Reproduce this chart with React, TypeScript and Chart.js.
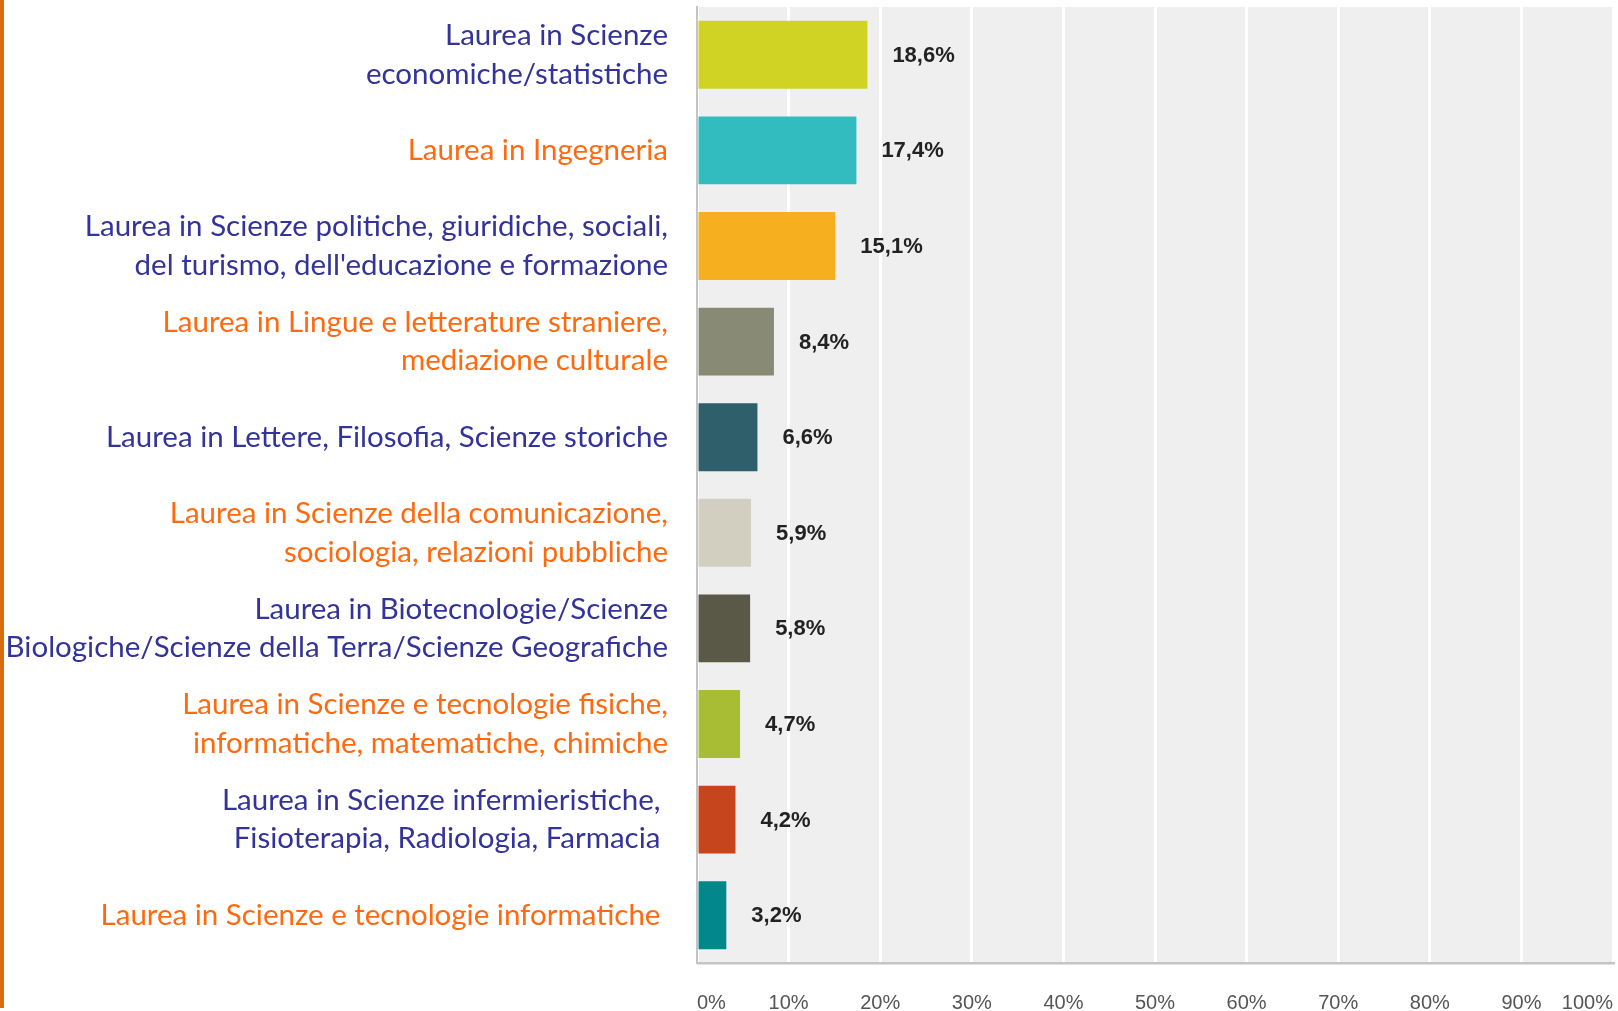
import React, { useEffect, useRef } from "react";
import { Chart, registerables } from "chart.js";

Chart.register(...registerables);

const categories: (string | string[])[] = [
  ["Laurea in Scienze", "economiche/statistiche"],
  "Laurea in Ingegneria",
  ["Laurea in Scienze politiche, giuridiche, sociali,", "del turismo, dell'educazione e formazione"],
  ["Laurea in Lingue e letterature straniere,", "mediazione culturale"],
  "Laurea in Lettere, Filosofia, Scienze storiche",
  ["Laurea in Scienze della comunicazione,", "sociologia, relazioni pubbliche"],
  ["Laurea in Biotecnologie/Scienze", "Biologiche/Scienze della Terra/Scienze Geografiche"],
  ["Laurea in Scienze e tecnologie fisiche,", "informatiche, matematiche, chimiche"],
  ["Laurea in Scienze infermieristiche, ", "Fisioterapia, Radiologia, Farmacia "],
  "Laurea in Scienze e tecnologie informatiche ",
];

const values: number[] = [18.6, 17.4, 15.1, 8.4, 6.6, 5.9, 5.8, 4.7, 4.2, 3.2];

const barColors: string[] = [
  "#D0D324",
  "#33BCBF",
  "#F6AF1F",
  "#898A75",
  "#2E5F6B",
  "#D2CFC0",
  "#5A5846",
  "#A9BD34",
  "#C7451C",
  "#02878A",
];

const labelColors: string[] = [
  "#333399",
  "#FF6A10",
  "#333399",
  "#FF6A10",
  "#333399",
  "#FF6A10",
  "#333399",
  "#FF6A10",
  "#333399",
  "#FF6A10",
];

const xTicks: number[] = [0, 10, 20, 30, 40, 50, 60, 70, 80, 90, 100];

const bgPlugin = {
  id: "plotBg",
  beforeDraw(chart: any) {
    const { ctx, chartArea } = chart;
    ctx.save();
    ctx.fillStyle = "#FFFFFF";
    ctx.fillRect(0, 0, chart.width, chart.height);
    ctx.fillStyle = "#EFEFEF";
    ctx.fillRect(chartArea.left, chartArea.top, chartArea.right - chartArea.left, chartArea.bottom - chartArea.top);
    ctx.fillStyle = "#E2E2E2";
    ctx.fillRect(chartArea.right, chartArea.top, 2, chartArea.bottom - chartArea.top + 2);
    ctx.fillRect(chartArea.left, chartArea.bottom, chartArea.right - chartArea.left + 2, 2);
    ctx.fillStyle = "#D96C0C";
    ctx.fillRect(0, 0, 4, chart.height - 3);
    ctx.restore();
  },
};

const valueLabelPlugin = {
  id: "valueLabels",
  afterDatasetsDraw(chart: any) {
    const { ctx } = chart;
    const meta = chart.getDatasetMeta(0);
    ctx.save();
    ctx.font = "bold 22px 'Liberation Sans', Arial, sans-serif";
    ctx.fillStyle = "#222222";
    ctx.textAlign = "left";
    ctx.textBaseline = "middle";
    meta.data.forEach((bar: any, i: number) => {
      const txt = values[i].toFixed(1).replace(".", ",") + "%";
      ctx.fillText(txt, bar.x + 25, bar.y + 1);
    });
    ctx.restore();
  },
};

export default function App() {
  const ref = useRef<HTMLCanvasElement | null>(null);

  useEffect(() => {
    if (!ref.current) return;
    const chart = new Chart(ref.current, {
      type: "bar",
      data: {
        labels: categories,
        datasets: [
          {
            data: values,
            backgroundColor: barColors,
            borderWidth: 0,
            barPercentage: 0.71,
            categoryPercentage: 1,
          },
        ],
      },
      options: {
        indexAxis: "y",
        responsive: false,
        animation: false,
        maintainAspectRatio: false,
        layout: { padding: { top: 7, right: 5, left: 0, bottom: 0 } },
        plugins: {
          legend: { display: false },
          tooltip: { enabled: false },
        },
        scales: {
          x: {
            min: 0,
            max: 100,
            afterBuildTicks(scale: any) {
              scale.ticks = xTicks.map((v) => ({ value: v }));
            },
            afterFit(scale: any) {
              scale.height = 48;
              scale.paddingLeft = 0;
              scale.paddingRight = 0;
            },
            grid: {
              color: "#FFFFFF",
              lineWidth: 3,
              drawTicks: false,
            },
            border: { color: "#C4C4C4", width: 2 },
            ticks: {
              align: "inner",
              padding: 28,
              color: "#555555",
              font: { family: "'Liberation Sans', Arial, sans-serif", size: 20 },
              callback: (v: any) => v + "%",
            },
          },
          y: {
            afterFit(scale: any) {
              scale.width = 697;
              scale.paddingTop = 0;
              scale.paddingBottom = 0;
            },
            grid: { display: false, drawTicks: false },
            border: { color: "#C4C4C4", width: 2 },
            ticks: {
              padding: 29,
              color: labelColors,
              font: { family: "Lato, 'Open Sans', sans-serif", size: 29.5, lineHeight: 1.31 },
              autoSkip: false,
            },
          },
        },
      },
      plugins: [bgPlugin, valueLabelPlugin],
    });
    return () => chart.destroy();
  }, []);

  return (
    <div style={{ position: "fixed", left: 0, top: 0, width: 1618, height: 1011, background: "#fff" }}>
      <canvas ref={ref} width={1618} height={1011} style={{ display: "block" }} />
    </div>
  );
}
